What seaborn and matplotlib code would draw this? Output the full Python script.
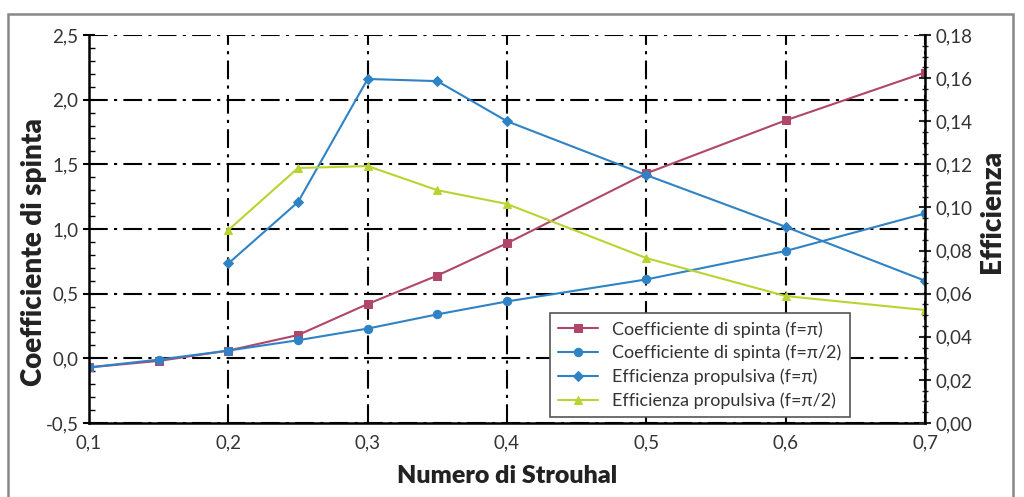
import numpy as np
import pandas as pd
import matplotlib
matplotlib.use("Agg")
import matplotlib.pyplot as plt
import matplotlib.patches as patches
from matplotlib.ticker import MultipleLocator, FuncFormatter
import seaborn as sns

# Strouhal numbers
strouhal = [0.1, 0.15, 0.2, 0.25, 0.3, 0.35, 0.4, 0.5, 0.6, 0.7]
strouhal_eff = [0.2, 0.25, 0.3, 0.35, 0.4, 0.5, 0.6, 0.7]

# thrust coefficient (left axis)
spinta_pi = [-0.07, -0.02, 0.06, 0.18, 0.42, 0.64, 0.89, 1.43, 1.84, 2.21]
spinta_pi2 = [-0.07, -0.01, 0.06, 0.14, 0.23, 0.34, 0.44, 0.61, 0.83, 1.12]

# propulsive efficiency (right axis)
eff_pi = [0.074, 0.1025, 0.1596, 0.1586, 0.140, 0.115, 0.091, 0.066]
eff_pi2 = [0.0895, 0.1183, 0.1192, 0.108, 0.1016, 0.0765, 0.0589, 0.0524]

labels = ["Coefficiente di spinta (f=π)", "Coefficiente di spinta (f=π/2)",
          "Efficienza propulsiva (f=π)", "Efficienza propulsiva (f=π/2)"]

c_red = "#B0476A"
c_blue = "#2F83C4"
c_green = "#B8D430"

sns.set_style("white")
plt.rcParams['font.family'] = ['Lato', 'DejaVu Sans']

fig = plt.figure(figsize=(10.24, 4.97), dpi=100)
ax = fig.add_axes([89/1024, 74/497, 836/1024, 388/497])
ax2 = ax.twinx()

sns.lineplot(x=strouhal, y=spinta_pi, ax=ax, color=c_red, marker="s", markersize=6,
             markeredgecolor=c_red, linewidth=1.5, label=labels[0], legend=False)
sns.lineplot(x=strouhal, y=spinta_pi2, ax=ax, color=c_blue, marker="o", markersize=6,
             markeredgecolor=c_blue, linewidth=1.5, label=labels[1], legend=False)
sns.lineplot(x=strouhal_eff, y=eff_pi, ax=ax2, color=c_blue, marker="D", markersize=5,
             markeredgecolor=c_blue, linewidth=1.5, label=labels[2], legend=False)
sns.lineplot(x=strouhal_eff, y=eff_pi2, ax=ax2, color=c_green, marker="^", markersize=6,
             markeredgecolor=c_green, linewidth=1.5, label=labels[3], legend=False)

ax.set_xlim(0.1, 0.7)
ax.set_ylim(-0.5, 2.5)
ax2.set_ylim(0, 0.18)

comma = lambda fmt: FuncFormatter(lambda v, p: (fmt % v).replace(".", ","))
ax.xaxis.set_major_locator(MultipleLocator(0.1))
ax.xaxis.set_minor_locator(MultipleLocator(0.02))
ax.xaxis.set_major_formatter(comma("%.1f"))
ax.yaxis.set_major_locator(MultipleLocator(0.5))
ax.yaxis.set_minor_locator(MultipleLocator(0.1))
ax.yaxis.set_major_formatter(comma("%.1f"))
ax2.yaxis.set_major_locator(MultipleLocator(0.02))
ax2.yaxis.set_minor_locator(MultipleLocator(0.005))
ax2.yaxis.set_major_formatter(comma("%.2f"))

ax.grid(True, which="major", color="black", linewidth=1.5, linestyle=(0, (9, 3, 1.5, 3)))
ax.set_axisbelow(True)
ax2.set_zorder(ax.get_zorder() + 1)
ax.patch.set_visible(False)

for a in (ax, ax2):
    for s in a.spines.values():
        s.set_visible(False)
ax.spines["left"].set_visible(True)
ax.spines["bottom"].set_visible(True)
ax2.spines["right"].set_visible(True)
for s in (ax.spines["left"], ax.spines["bottom"], ax2.spines["right"]):
    s.set_color("black")
    s.set_linewidth(1.8)

ax.tick_params(axis="both", which="major", direction="inout", length=8, width=1.5,
               labelsize=13.5, labelcolor="#333333", color="black")
ax.tick_params(axis="both", which="minor", direction="in", length=4, width=1, color="black")
ax.tick_params(axis="x", which="major", direction="in", length=6, pad=8)
ax2.tick_params(axis="y", which="major", direction="inout", length=8, width=1.5,
                labelsize=13.5, labelcolor="#333333")
ax2.tick_params(axis="y", which="minor", direction="inout", length=4, width=1)

ax.set_xlabel("Numero di Strouhal", fontsize=18, fontweight="heavy", color="#222222", labelpad=10)
ax.set_ylabel("Coefficiente di spinta", fontsize=20, fontweight="heavy", color="#222222", labelpad=-1)
ax2.set_ylabel("Efficienza", fontsize=20, fontweight="heavy", color="#222222", labelpad=5)
ax.yaxis.label.set_y(0.44)
ax2.yaxis.label.set_y(0.545)

h1, l1 = ax.get_legend_handles_labels()
h2, l2 = ax2.get_legend_handles_labels()
leg = ax2.legend(h1 + h2, l1 + l2, loc="lower right", bbox_to_anchor=(0.91, 0.015),
                 fontsize=13, frameon=True, fancybox=False, edgecolor="#555555",
                 framealpha=1, handlelength=2.2, borderpad=0.45, labelspacing=0.4,
                 markerscale=1.0, borderaxespad=0)
leg.get_frame().set_linewidth(1.2)
for t in leg.get_texts():
    t.set_color("#333333")

fig.add_artist(patches.Rectangle((8/1024, -0.1), 1005/1024, 1.1 - 14/497,
                                 transform=fig.transFigure, fill=False,
                                 edgecolor="#888888", linewidth=1.8))

fig.savefig("out.png", dpi=100)
